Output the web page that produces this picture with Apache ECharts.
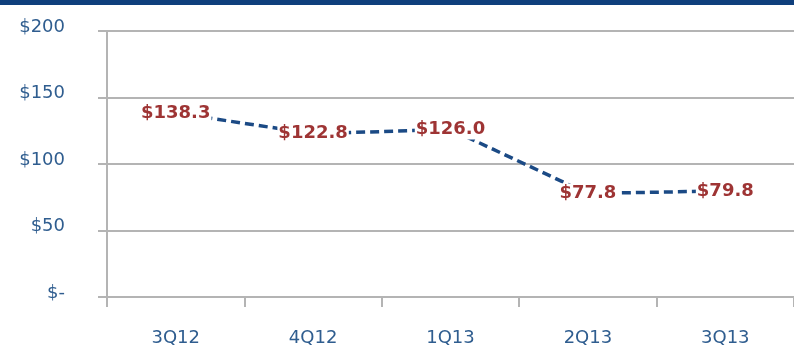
<!DOCTYPE html>
<html>
<head>
<meta charset="utf-8">
<script src="https://cdn.jsdelivr.net/npm/echarts@6/dist/echarts.min.js"></script>
<style>
  html, body { margin: 0; padding: 0; background: #ffffff; }
  #chart { width: 794px; height: 352px; }
</style>
</head>
<body>
<div id="chart"></div>
<script>
// Quarterly values, in $ millions
const quarters = ['3Q12', '4Q12', '1Q13', '2Q13', '3Q13'];
const values = [138.3, 122.8, 126.0, 77.8, 79.8];
const yTicks = [0, 50, 100, 150, 200];

const axisBlue = '#2f5d8f';
const lineBlue = '#1b4a85';
const labelRed = '#9e3434';
const gridGray = '#b4b4b4';

const chart = echarts.init(document.getElementById('chart'), null, { renderer: 'canvas' });

chart.setOption({
  animation: false,
  backgroundColor: '#ffffff',
  graphic: [{
    type: 'rect',
    left: 0, top: 0,
    shape: { width: 794, height: 5 },
    style: { fill: '#0f3f7c' },
    z: 10
  }],
  grid: { left: 107, right: -6, top: 31, bottom: 55, containLabel: false },
  xAxis: {
    type: 'category',
    data: quarters,
    boundaryGap: true,
    axisLine: { show: true, lineStyle: { color: gridGray, width: 2 } },
    axisTick: { show: true, length: 10, lineStyle: { color: gridGray, width: 2 } },
    axisLabel: {
      margin: 32,
      color: axisBlue,
      fontFamily: 'DejaVu Sans',
      fontSize: 18
    },
    splitLine: { show: false }
  },
  yAxis: {
    type: 'value',
    min: yTicks[0],
    max: yTicks[yTicks.length - 1],
    interval: 50,
    axisLine: { show: true, lineStyle: { color: gridGray, width: 2 } },
    axisTick: { show: true, length: 9, lineStyle: { color: gridGray, width: 2 } },
    axisLabel: {
      margin: 42,
      color: axisBlue,
      fontFamily: 'DejaVu Sans',
      fontSize: 18,
      verticalAlign: 'bottom',
      lineHeight: 8,
      formatter: v => (v === 0 ? '$-' : '$' + v)
    },
    splitLine: { show: true, lineStyle: { color: gridGray, width: 2 } }
  },
  series: [{
    type: 'line',
    data: values,
    symbol: 'circle',
    symbolSize: 2,
    showSymbol: true,
    itemStyle: { color: 'rgba(0,0,0,0)' },
    lineStyle: { color: lineBlue, width: 3.5, type: [9, 5] },
    label: {
      show: true,
      position: 'inside',
      color: labelRed,
      fontFamily: 'DejaVu Sans',
      fontWeight: 'bold',
      fontSize: 18,
      backgroundColor: '#ffffff',
      padding: [1, 1],
      formatter: p => '$' + p.value.toFixed(1)
    },
    z: 3
  }]
});
</script>
</body>
</html>
